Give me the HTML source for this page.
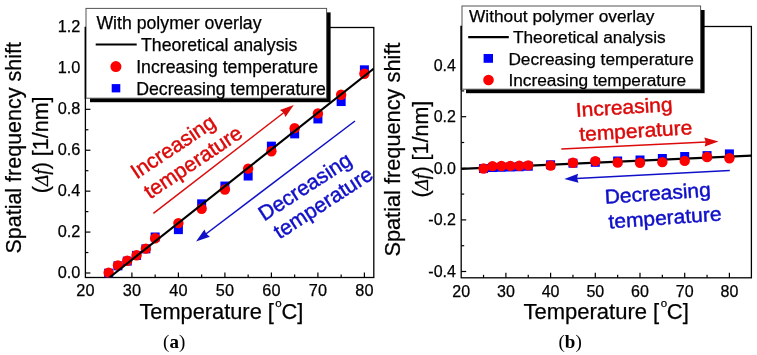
<!DOCTYPE html>
<html><head><meta charset="utf-8"><style>
html,body{margin:0;padding:0;background:#fff;width:757px;height:355px;overflow:hidden}
svg{display:block;will-change:transform}

</style></head><body>
<svg width="757" height="355" viewBox="0 0 757 355">
<rect width="757" height="355" fill="#fff"/>
<rect x="85.4" y="27.5" width="288.40" height="250.00" fill="none" stroke="#000" stroke-width="1.3"/>
<line x1="108.65" y1="277.5" x2="108.65" y2="274.5" stroke="#000" stroke-width="1.2"/>
<line x1="131.90" y1="277.5" x2="131.90" y2="272.5" stroke="#000" stroke-width="1.2"/>
<line x1="155.15" y1="277.5" x2="155.15" y2="274.5" stroke="#000" stroke-width="1.2"/>
<line x1="178.40" y1="277.5" x2="178.40" y2="272.5" stroke="#000" stroke-width="1.2"/>
<line x1="201.65" y1="277.5" x2="201.65" y2="274.5" stroke="#000" stroke-width="1.2"/>
<line x1="224.90" y1="277.5" x2="224.90" y2="272.5" stroke="#000" stroke-width="1.2"/>
<line x1="248.15" y1="277.5" x2="248.15" y2="274.5" stroke="#000" stroke-width="1.2"/>
<line x1="271.40" y1="277.5" x2="271.40" y2="272.5" stroke="#000" stroke-width="1.2"/>
<line x1="294.65" y1="277.5" x2="294.65" y2="274.5" stroke="#000" stroke-width="1.2"/>
<line x1="317.90" y1="277.5" x2="317.90" y2="272.5" stroke="#000" stroke-width="1.2"/>
<line x1="341.15" y1="277.5" x2="341.15" y2="274.5" stroke="#000" stroke-width="1.2"/>
<line x1="364.40" y1="277.5" x2="364.40" y2="272.5" stroke="#000" stroke-width="1.2"/>
<text x="85.40" y="295.6" font-family="'Liberation Sans', sans-serif" stroke="#000" stroke-width="0.25" font-size="16.3" text-anchor="middle">20</text>
<text x="131.90" y="295.6" font-family="'Liberation Sans', sans-serif" stroke="#000" stroke-width="0.25" font-size="16.3" text-anchor="middle">30</text>
<text x="178.40" y="295.6" font-family="'Liberation Sans', sans-serif" stroke="#000" stroke-width="0.25" font-size="16.3" text-anchor="middle">40</text>
<text x="224.90" y="295.6" font-family="'Liberation Sans', sans-serif" stroke="#000" stroke-width="0.25" font-size="16.3" text-anchor="middle">50</text>
<text x="271.40" y="295.6" font-family="'Liberation Sans', sans-serif" stroke="#000" stroke-width="0.25" font-size="16.3" text-anchor="middle">60</text>
<text x="317.90" y="295.6" font-family="'Liberation Sans', sans-serif" stroke="#000" stroke-width="0.25" font-size="16.3" text-anchor="middle">70</text>
<text x="364.40" y="295.6" font-family="'Liberation Sans', sans-serif" stroke="#000" stroke-width="0.25" font-size="16.3" text-anchor="middle">80</text>
<line x1="85.4" y1="273.00" x2="90.4" y2="273.00" stroke="#000" stroke-width="1.2"/>
<line x1="85.4" y1="252.54" x2="88.4" y2="252.54" stroke="#000" stroke-width="1.2"/>
<line x1="85.4" y1="232.08" x2="90.4" y2="232.08" stroke="#000" stroke-width="1.2"/>
<line x1="85.4" y1="211.62" x2="88.4" y2="211.62" stroke="#000" stroke-width="1.2"/>
<line x1="85.4" y1="191.16" x2="90.4" y2="191.16" stroke="#000" stroke-width="1.2"/>
<line x1="85.4" y1="170.70" x2="88.4" y2="170.70" stroke="#000" stroke-width="1.2"/>
<line x1="85.4" y1="150.24" x2="90.4" y2="150.24" stroke="#000" stroke-width="1.2"/>
<line x1="85.4" y1="129.78" x2="88.4" y2="129.78" stroke="#000" stroke-width="1.2"/>
<line x1="85.4" y1="109.32" x2="90.4" y2="109.32" stroke="#000" stroke-width="1.2"/>
<line x1="85.4" y1="88.86" x2="88.4" y2="88.86" stroke="#000" stroke-width="1.2"/>
<line x1="85.4" y1="68.40" x2="90.4" y2="68.40" stroke="#000" stroke-width="1.2"/>
<line x1="85.4" y1="47.94" x2="88.4" y2="47.94" stroke="#000" stroke-width="1.2"/>
<line x1="85.4" y1="27.48" x2="90.4" y2="27.48" stroke="#000" stroke-width="1.2"/>
<text x="80.4" y="277.70" font-family="'Liberation Sans', sans-serif" stroke="#000" stroke-width="0.25" font-size="16.3" text-anchor="end">0.0</text>
<text x="80.4" y="236.78" font-family="'Liberation Sans', sans-serif" stroke="#000" stroke-width="0.25" font-size="16.3" text-anchor="end">0.2</text>
<text x="80.4" y="195.86" font-family="'Liberation Sans', sans-serif" stroke="#000" stroke-width="0.25" font-size="16.3" text-anchor="end">0.4</text>
<text x="80.4" y="154.94" font-family="'Liberation Sans', sans-serif" stroke="#000" stroke-width="0.25" font-size="16.3" text-anchor="end">0.6</text>
<text x="80.4" y="114.02" font-family="'Liberation Sans', sans-serif" stroke="#000" stroke-width="0.25" font-size="16.3" text-anchor="end">0.8</text>
<text x="80.4" y="73.10" font-family="'Liberation Sans', sans-serif" stroke="#000" stroke-width="0.25" font-size="16.3" text-anchor="end">1.0</text>
<text x="80.4" y="32.18" font-family="'Liberation Sans', sans-serif" stroke="#000" stroke-width="0.25" font-size="16.3" text-anchor="end">1.2</text>
<g clip-path="url(#clipA)">
<rect x="104.15" y="268.70" width="9" height="9" fill="#0000ff"/>
<rect x="113.45" y="261.34" width="9" height="9" fill="#0000ff"/>
<rect x="122.75" y="256.63" width="9" height="9" fill="#0000ff"/>
<rect x="132.05" y="250.90" width="9" height="9" fill="#0000ff"/>
<rect x="141.35" y="244.36" width="9" height="9" fill="#0000ff"/>
<rect x="150.65" y="232.49" width="9" height="9" fill="#0000ff"/>
<rect x="173.90" y="225.12" width="9" height="9" fill="#0000ff"/>
<rect x="197.15" y="199.35" width="9" height="9" fill="#0000ff"/>
<rect x="220.40" y="181.55" width="9" height="9" fill="#0000ff"/>
<rect x="243.65" y="171.52" width="9" height="9" fill="#0000ff"/>
<rect x="266.90" y="141.65" width="9" height="9" fill="#0000ff"/>
<rect x="290.15" y="129.37" width="9" height="9" fill="#0000ff"/>
<rect x="313.40" y="114.44" width="9" height="9" fill="#0000ff"/>
<rect x="336.65" y="97.05" width="9" height="9" fill="#0000ff"/>
<rect x="359.90" y="65.33" width="9" height="9" fill="#0000ff"/>
<circle cx="108.65" cy="272.80" r="5.2" fill="#ff0000"/>
<circle cx="117.95" cy="265.43" r="5.2" fill="#ff0000"/>
<circle cx="127.25" cy="260.72" r="5.2" fill="#ff0000"/>
<circle cx="136.55" cy="255.20" r="5.2" fill="#ff0000"/>
<circle cx="145.85" cy="248.65" r="5.2" fill="#ff0000"/>
<circle cx="155.15" cy="238.22" r="5.2" fill="#ff0000"/>
<circle cx="178.40" cy="223.08" r="5.2" fill="#ff0000"/>
<circle cx="201.65" cy="208.76" r="5.2" fill="#ff0000"/>
<circle cx="224.90" cy="189.52" r="5.2" fill="#ff0000"/>
<circle cx="248.15" cy="168.65" r="5.2" fill="#ff0000"/>
<circle cx="271.40" cy="151.26" r="5.2" fill="#ff0000"/>
<circle cx="294.65" cy="128.14" r="5.2" fill="#ff0000"/>
<circle cx="317.90" cy="113.41" r="5.2" fill="#ff0000"/>
<circle cx="341.15" cy="94.79" r="5.2" fill="#ff0000"/>
<circle cx="364.40" cy="73.72" r="5.2" fill="#ff0000"/>
<line x1="109.4" y1="277.5" x2="373.8" y2="68.5" stroke="#000" stroke-width="2.1"/>
</g>
<defs><clipPath id="clipA"><rect x="85.4" y="27.5" width="288.4" height="250.0"/></clipPath><clipPath id="clipB"><rect x="461.2" y="26.5" width="290.2" height="251.3"/></clipPath></defs>
<line x1="153.40" y1="213.40" x2="284.30" y2="112.24" stroke="#dc0a0a" stroke-width="1.5"/>
<polygon points="293.80,104.90 285.47,117.02 283.67,112.73 279.97,109.90" fill="#dc0a0a"/>
<line x1="355.00" y1="121.00" x2="205.56" y2="234.25" stroke="#1010c8" stroke-width="1.5"/>
<polygon points="196.00,241.50 204.44,229.46 206.20,233.77 209.88,236.63" fill="#1010c8"/>
<text transform="translate(136.7,179.6) rotate(-33.8)" font-family="'Liberation Sans', sans-serif" font-size="21" fill="#dc0a0a" stroke="#dc0a0a" stroke-width="0.45"><tspan x="0" y="0">Increasing</tspan><tspan x="0" y="23.9">temperature</tspan></text>
<text transform="translate(264.3,221.5) rotate(-33)" font-family="'Liberation Sans', sans-serif" font-size="21" fill="#1010c8" stroke="#1010c8" stroke-width="0.45"><tspan x="0" y="0">Decreasing</tspan><tspan x="3" y="23.5">temperature</tspan></text>
<rect x="90" y="12.4" width="240.60000000000002" height="89.8" fill="#000"/>
<rect x="86" y="8.4" width="240.60000000000002" height="89.8" fill="#fff" stroke="#555" stroke-width="1"/>
<line x1="85.4" y1="26.85" x2="85.4" y2="99" stroke="#000" stroke-width="1.3"/>
<text x="96.4" y="28.9" font-family="'Liberation Sans', sans-serif" stroke="#000" stroke-width="0.25" font-size="17.7">With polymer overlay</text>
<line x1="95.7" y1="44.5" x2="136.7" y2="44.5" stroke="#000" stroke-width="2.1"/>
<text x="141" y="51.2" font-family="'Liberation Sans', sans-serif" stroke="#000" stroke-width="0.25" font-size="17.7">Theoretical analysis</text>
<circle cx="115.9" cy="66.6" r="5.5" fill="#ff0000"/>
<text x="136.2" y="72.6" font-family="'Liberation Sans', sans-serif" stroke="#000" stroke-width="0.25" font-size="17.7">Increasing temperature</text>
<rect x="111.7" y="84.1" width="8.6" height="8.3" fill="#0000ff"/>
<text x="136.2" y="94.7" font-family="'Liberation Sans', sans-serif" stroke="#000" stroke-width="0.25" font-size="17.7">Decreasing temperature</text>
<text x="139.4" y="319.3" font-family="'Liberation Sans', sans-serif" stroke="#000" stroke-width="0.25" font-size="21.8">Temperature [<tspan font-size="11.5" dy="-12.2" dx="1.4">o</tspan><tspan dy="12.2" dx="-0.2">C]</tspan></text>
<text transform="translate(21.3,253.6) rotate(-90)" font-family="'Liberation Sans', sans-serif" stroke="#000" stroke-width="0.25" font-size="21.5">Spatial frequency shift</text>
<text transform="translate(48.1,193.2) rotate(-90)" font-family="'Liberation Sans', sans-serif" stroke="#000" stroke-width="0.25" font-size="21.5">(<tspan font-family="'Liberation Serif', serif" font-style="italic" font-size="19">Δ</tspan><tspan font-family="'Liberation Serif', serif" font-style="italic" font-size="20" dy="0">f</tspan>) [1/nm]</text>
<text x="174.2" y="347.9" font-family="'Liberation Serif', serif" font-size="19" text-anchor="middle">(<tspan font-weight="bold">a</tspan>)</text>
<rect x="461.2" y="26.5" width="290.20" height="251.30" fill="none" stroke="#000" stroke-width="1.3"/>
<line x1="483.55" y1="277.8" x2="483.55" y2="274.8" stroke="#000" stroke-width="1.2"/>
<line x1="505.90" y1="277.8" x2="505.90" y2="272.8" stroke="#000" stroke-width="1.2"/>
<line x1="528.25" y1="277.8" x2="528.25" y2="274.8" stroke="#000" stroke-width="1.2"/>
<line x1="550.60" y1="277.8" x2="550.60" y2="272.8" stroke="#000" stroke-width="1.2"/>
<line x1="572.95" y1="277.8" x2="572.95" y2="274.8" stroke="#000" stroke-width="1.2"/>
<line x1="595.30" y1="277.8" x2="595.30" y2="272.8" stroke="#000" stroke-width="1.2"/>
<line x1="617.65" y1="277.8" x2="617.65" y2="274.8" stroke="#000" stroke-width="1.2"/>
<line x1="640.00" y1="277.8" x2="640.00" y2="272.8" stroke="#000" stroke-width="1.2"/>
<line x1="662.35" y1="277.8" x2="662.35" y2="274.8" stroke="#000" stroke-width="1.2"/>
<line x1="684.70" y1="277.8" x2="684.70" y2="272.8" stroke="#000" stroke-width="1.2"/>
<line x1="707.05" y1="277.8" x2="707.05" y2="274.8" stroke="#000" stroke-width="1.2"/>
<line x1="729.40" y1="277.8" x2="729.40" y2="272.8" stroke="#000" stroke-width="1.2"/>
<text x="461.20" y="296.9" font-family="'Liberation Sans', sans-serif" stroke="#000" stroke-width="0.25" font-size="16" text-anchor="middle">20</text>
<text x="505.90" y="296.9" font-family="'Liberation Sans', sans-serif" stroke="#000" stroke-width="0.25" font-size="16" text-anchor="middle">30</text>
<text x="550.60" y="296.9" font-family="'Liberation Sans', sans-serif" stroke="#000" stroke-width="0.25" font-size="16" text-anchor="middle">40</text>
<text x="595.30" y="296.9" font-family="'Liberation Sans', sans-serif" stroke="#000" stroke-width="0.25" font-size="16" text-anchor="middle">50</text>
<text x="640.00" y="296.9" font-family="'Liberation Sans', sans-serif" stroke="#000" stroke-width="0.25" font-size="16" text-anchor="middle">60</text>
<text x="684.70" y="296.9" font-family="'Liberation Sans', sans-serif" stroke="#000" stroke-width="0.25" font-size="16" text-anchor="middle">70</text>
<text x="729.40" y="296.9" font-family="'Liberation Sans', sans-serif" stroke="#000" stroke-width="0.25" font-size="16" text-anchor="middle">80</text>
<line x1="461.2" y1="271.50" x2="466.2" y2="271.50" stroke="#000" stroke-width="1.2"/>
<line x1="461.2" y1="245.70" x2="464.2" y2="245.70" stroke="#000" stroke-width="1.2"/>
<line x1="461.2" y1="219.90" x2="466.2" y2="219.90" stroke="#000" stroke-width="1.2"/>
<line x1="461.2" y1="194.10" x2="464.2" y2="194.10" stroke="#000" stroke-width="1.2"/>
<line x1="461.2" y1="168.30" x2="466.2" y2="168.30" stroke="#000" stroke-width="1.2"/>
<line x1="461.2" y1="142.50" x2="464.2" y2="142.50" stroke="#000" stroke-width="1.2"/>
<line x1="461.2" y1="116.70" x2="466.2" y2="116.70" stroke="#000" stroke-width="1.2"/>
<line x1="461.2" y1="90.90" x2="464.2" y2="90.90" stroke="#000" stroke-width="1.2"/>
<line x1="461.2" y1="65.10" x2="466.2" y2="65.10" stroke="#000" stroke-width="1.2"/>
<line x1="461.2" y1="39.30" x2="464.2" y2="39.30" stroke="#000" stroke-width="1.2"/>
<text x="455.9" y="276.90" font-family="'Liberation Sans', sans-serif" stroke="#000" stroke-width="0.25" font-size="16" text-anchor="end">-0.4</text>
<text x="455.9" y="225.30" font-family="'Liberation Sans', sans-serif" stroke="#000" stroke-width="0.25" font-size="16" text-anchor="end">-0.2</text>
<text x="455.9" y="173.70" font-family="'Liberation Sans', sans-serif" stroke="#000" stroke-width="0.25" font-size="16" text-anchor="end">0.0</text>
<text x="455.9" y="122.10" font-family="'Liberation Sans', sans-serif" stroke="#000" stroke-width="0.25" font-size="16" text-anchor="end">0.2</text>
<text x="455.9" y="70.50" font-family="'Liberation Sans', sans-serif" stroke="#000" stroke-width="0.25" font-size="16" text-anchor="end">0.4</text>
<g clip-path="url(#clipB)">
<line x1="461.2" y1="168.8" x2="751.4" y2="155.7" stroke="#000" stroke-width="2.2"/>
<rect x="479.05" y="164.06" width="9" height="9" fill="#0000ff"/>
<rect x="487.99" y="163.03" width="9" height="9" fill="#0000ff"/>
<rect x="496.93" y="162.77" width="9" height="9" fill="#0000ff"/>
<rect x="505.87" y="162.51" width="9" height="9" fill="#0000ff"/>
<rect x="514.81" y="162.25" width="9" height="9" fill="#0000ff"/>
<rect x="523.75" y="161.74" width="9" height="9" fill="#0000ff"/>
<rect x="546.10" y="160.29" width="9" height="9" fill="#0000ff"/>
<rect x="568.45" y="158.69" width="9" height="9" fill="#0000ff"/>
<rect x="590.80" y="157.79" width="9" height="9" fill="#0000ff"/>
<rect x="613.15" y="156.50" width="9" height="9" fill="#0000ff"/>
<rect x="635.50" y="155.49" width="9" height="9" fill="#0000ff"/>
<rect x="657.85" y="154.00" width="9" height="9" fill="#0000ff"/>
<rect x="680.20" y="152.01" width="9" height="9" fill="#0000ff"/>
<rect x="702.55" y="151.11" width="9" height="9" fill="#0000ff"/>
<rect x="724.90" y="149.40" width="9" height="9" fill="#0000ff"/>
<circle cx="483.55" cy="168.56" r="5.2" fill="#ff0000"/>
<circle cx="492.49" cy="166.11" r="5.2" fill="#ff0000"/>
<circle cx="501.43" cy="165.98" r="5.2" fill="#ff0000"/>
<circle cx="510.37" cy="165.85" r="5.2" fill="#ff0000"/>
<circle cx="519.31" cy="165.72" r="5.2" fill="#ff0000"/>
<circle cx="528.25" cy="165.33" r="5.2" fill="#ff0000"/>
<circle cx="550.60" cy="165.46" r="5.2" fill="#ff0000"/>
<circle cx="572.95" cy="162.70" r="5.2" fill="#ff0000"/>
<circle cx="595.30" cy="161.10" r="5.2" fill="#ff0000"/>
<circle cx="617.65" cy="162.50" r="5.2" fill="#ff0000"/>
<circle cx="640.00" cy="162.70" r="5.2" fill="#ff0000"/>
<circle cx="662.35" cy="162.11" r="5.2" fill="#ff0000"/>
<circle cx="684.70" cy="160.90" r="5.2" fill="#ff0000"/>
<circle cx="707.05" cy="157.00" r="5.2" fill="#ff0000"/>
<circle cx="729.40" cy="158.21" r="5.2" fill="#ff0000"/>
</g>
<line x1="561.30" y1="149.10" x2="706.51" y2="141.99" stroke="#dc0a0a" stroke-width="1.5"/>
<polygon points="718.50,141.40 704.74,146.58 705.72,142.03 704.30,137.59" fill="#dc0a0a"/>
<line x1="729.80" y1="170.60" x2="576.28" y2="178.39" stroke="#1010c8" stroke-width="1.5"/>
<polygon points="564.30,179.00 578.05,173.80 577.08,178.35 578.51,182.78" fill="#1010c8"/>
<text transform="translate(576.2,116.9) rotate(-3.5) scale(1.05,1)" font-family="'Liberation Sans', sans-serif" font-size="20" fill="#dc0a0a" stroke="#dc0a0a" stroke-width="0.45"><tspan x="0" y="0">Increasing</tspan><tspan x="1.9" y="24.3">temperature</tspan></text>
<text transform="translate(605.2,203.7) rotate(-4) scale(1.05,1)" font-family="'Liberation Sans', sans-serif" font-size="20" fill="#1010c8" stroke="#1010c8" stroke-width="0.45"><tspan x="0" y="0">Decreasing</tspan><tspan x="1.9" y="24.9">temperature</tspan></text>
<rect x="466" y="10" width="238.60000000000002" height="83.2" fill="#000"/>
<rect x="462" y="6" width="238.60000000000002" height="83.2" fill="#fff" stroke="#555" stroke-width="1"/>
<line x1="461.2" y1="25.85" x2="461.2" y2="90" stroke="#000" stroke-width="1.3"/>
<text x="469" y="22.1" font-family="'Liberation Sans', sans-serif" stroke="#000" stroke-width="0.25" font-size="17.3">Without polymer overlay</text>
<line x1="468.2" y1="37.1" x2="508.8" y2="37.1" stroke="#000" stroke-width="2.1"/>
<text x="512.9" y="43.3" font-family="'Liberation Sans', sans-serif" stroke="#000" stroke-width="0.25" font-size="17.3">Theoretical analysis</text>
<rect x="483.6" y="54" width="9.4" height="8.8" fill="#0000ff"/>
<text x="508.4" y="64.5" font-family="'Liberation Sans', sans-serif" stroke="#000" stroke-width="0.25" font-size="17.3">Decreasing temperature</text>
<circle cx="488.5" cy="80" r="5.3" fill="#ff0000"/>
<text x="508.4" y="86" font-family="'Liberation Sans', sans-serif" stroke="#000" stroke-width="0.25" font-size="17.3">Increasing temperature</text>
<text x="523.5" y="318.6" font-family="'Liberation Sans', sans-serif" stroke="#000" stroke-width="0.25" font-size="22">Temperature [<tspan font-size="11.5" dy="-11.6" dx="1.6">o</tspan><tspan dy="11.6" dx="-0.4">C]</tspan></text>
<text transform="translate(400.4,256.6) rotate(-90)" font-family="'Liberation Sans', sans-serif" stroke="#000" stroke-width="0.25" font-size="21.75">Spatial frequency shift</text>
<text transform="translate(427.8,197.5) rotate(-90)" font-family="'Liberation Sans', sans-serif" stroke="#000" stroke-width="0.25" font-size="21.5">(<tspan font-family="'Liberation Serif', serif" font-style="italic" font-size="19">Δ</tspan><tspan font-family="'Liberation Serif', serif" font-style="italic" font-size="20">f</tspan>) [1/nm]</text>
<text x="570.1" y="347.6" font-family="'Liberation Serif', serif" font-size="19" text-anchor="middle">(<tspan font-weight="bold">b</tspan>)</text>
</svg>
</body></html>
